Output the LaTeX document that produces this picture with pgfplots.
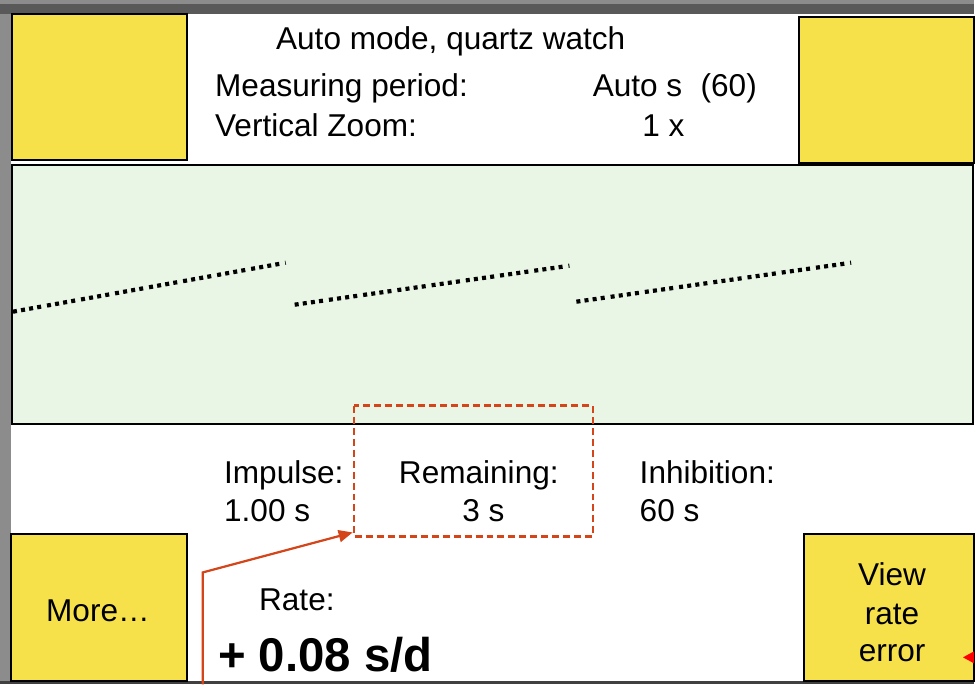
\documentclass[border=0pt]{standalone}
\usepackage{pgfplots}
\pgfplotsset{compat=1.18}
\usepackage{fontspec}
\setmainfont{Liberation Sans}
\usetikzlibrary{arrows.meta}

\definecolor{btn}{HTML}{F6E14B}
\definecolor{scope}{HTML}{E9F5E5}
\definecolor{note}{HTML}{D4451A}

% traces: x = screen position, y = height above the bottom of the scope
\pgfplotstableread{
x    y
13   112
286  161
}\traceA
\pgfplotstableread{
x    y
295  119
570  158
}\traceB
\pgfplotstableread{
x    y
577  122
852  161
}\traceC

\begin{document}
\fontsize{15.8}{19}\selectfont
\begin{tikzpicture}[x=0.5pt,y=-0.5pt,
    lbl/.style={inner sep=0pt,anchor=base west},
    ctr/.style={inner sep=0pt,anchor=base}]
% frame of the screenshot
\fill[black!45] (0,0) rectangle (975,685);
\fill[black!65] (0,4) rectangle (975,14);
\fill[white] (11,14) rectangle (975,682);
\fill[black!75] (0,682) rectangle (975,685);

% buttons
\draw[line width=1pt,fill=btn] (12,14) rectangle (187,160);
\draw[line width=1pt,fill=btn] (800,17) rectangle (975,163);
\draw[line width=1pt,fill=btn] (11,535) rectangle (187,682);
\draw[line width=1pt,fill=btn] (805,535) rectangle (975,682);

\coordinate (A) at (12,424);
\begin{axis}[
    at={(A)}, anchor=south west,
    scale only axis,
    width=481pt, height=129.5pt,
    xmin=12, xmax=974, ymin=0, ymax=259,
    xtick=\empty, ytick=\empty,
    axis line style={line width=1pt},
    axis background/.style={fill=scope},
    clip=true
]
\addplot[line width=2.1pt, line cap=butt, dash pattern=on 2pt off 2.1pt on 2pt off 2.1pt on 2pt off 2.1pt on 2pt off 3pt] table[x=x,y=y] {\traceA};
\addplot[line width=2.1pt, line cap=butt, dash pattern=on 2pt off 2.1pt on 2pt off 2.1pt on 2pt off 2.1pt on 2pt off 3pt] table[x=x,y=y] {\traceB};
\addplot[line width=2.1pt, line cap=butt, dash pattern=on 2pt off 2.1pt on 2pt off 2.1pt on 2pt off 2.1pt on 2pt off 3pt] table[x=x,y=y] {\traceC};
\end{axis}

% header
\node[lbl] at (276,50) {Auto mode, quartz watch};
\node[lbl] at (215,97) {Measuring period:};
\node[lbl] at (593,97) {Auto s};
\node[lbl] at (701,97) {(60)};
\node[lbl] at (215,137) {Vertical Zoom:};
\node[ctr] at (664,137) {1 x};

% status
\node[lbl] at (224,484) {Impulse:};
\node[lbl] at (224,522) {1.00 s};
\node[lbl] at (399,484) {Remaining:};
\node[ctr] at (484,522) {3 s};
\node[lbl] at (640,484) {Inhibition:};
\node[lbl] at (640,522) {60 s};
\node[lbl] at (259,611) {Rate:};
\node[lbl,font=\fontsize{23.7}{28}\selectfont\bfseries] at (218,672) {+ 0.08 s/d};

% button texts
\node[ctr] at (98,622) {More…};
\node[ctr] at (893,586) {View};
\node[ctr] at (893,625) {rate};
\node[ctr] at (893,662) {error};

% annotation
\draw[note,line width=1.1pt,dash pattern=on 3.5pt off 2pt] (354,406) rectangle (594,537);
\draw[note,line width=1.1pt,-{Triangle[length=7pt,width=6pt]}] (203,685) -- (203,573) -- (353,533);
\fill[red] (964,658) -- (975,652) -- (975,664) -- cycle;
\end{tikzpicture}
\end{document}
